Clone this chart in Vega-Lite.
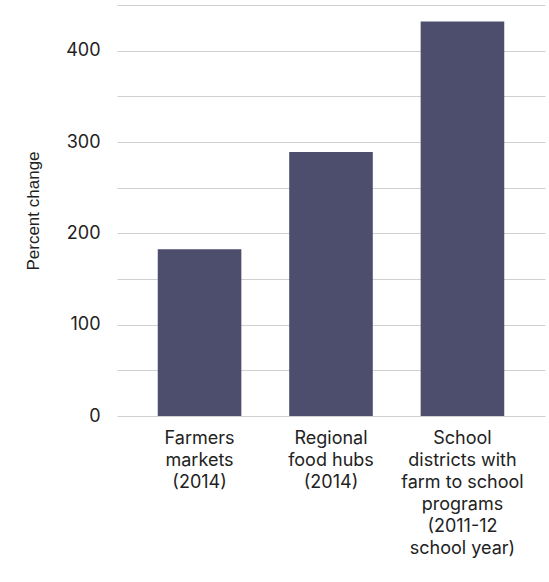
{
  "$schema": "https://vega.github.io/schema/vega-lite/v6.json",
  "width": 428,
  "height": 411,
  "autosize": {"type": "none"},
  "padding": {"left": 117, "top": 5, "right": 4, "bottom": 166},
  "config": {"view": {"stroke": null}, "font": "Inter"},
  "data": {
    "values": [
      {"category": "Farmers|markets|(2014)", "value": 182.5},
      {"category": "Regional|food hubs|(2014)", "value": 289},
      {"category": "School|districts with|farm to school|programs|(2011-12|school year)", "value": 432}
    ]
  },
  "mark": {"type": "bar", "color": "#4d4e6e"},
  "encoding": {
    "x": {
      "field": "category",
      "type": "nominal",
      "sort": null,
      "scale": {"paddingInner": 0.364, "paddingOuter": 0.31},
      "axis": {
        "title": null,
        "labelAngle": 0,
        "labelExpr": "split(datum.label, '|')",
        "labelFontSize": 18,
        "labelColor": "#222222",
        "labelLineHeight": 22,
        "ticks": false,
        "domain": false,
        "labelPadding": 13
      }
    },
    "y": {
      "field": "value",
      "type": "quantitative",
      "scale": {"domain": [0, 450]},
      "axis": {
        "title": "Percent change",
        "values": [0, 50, 100, 150, 200, 250, 300, 350, 400, 450],
        "labelExpr": "datum.value % 100 === 0 ? datum.label : ''",
        "grid": true,
        "gridColor": "#d0d0d0",
        "gridWidth": 1,
        "domain": false,
        "ticks": false,
        "labelPadding": 17,
        "labelFontSize": 18,
        "labelColor": "#222222",
        "titleFont": "Liberation Sans",
        "titleFontSize": 17,
        "titleFontWeight": "normal",
        "titleColor": "#222222",
        "titlePadding": 23
      }
    }
  }
}
